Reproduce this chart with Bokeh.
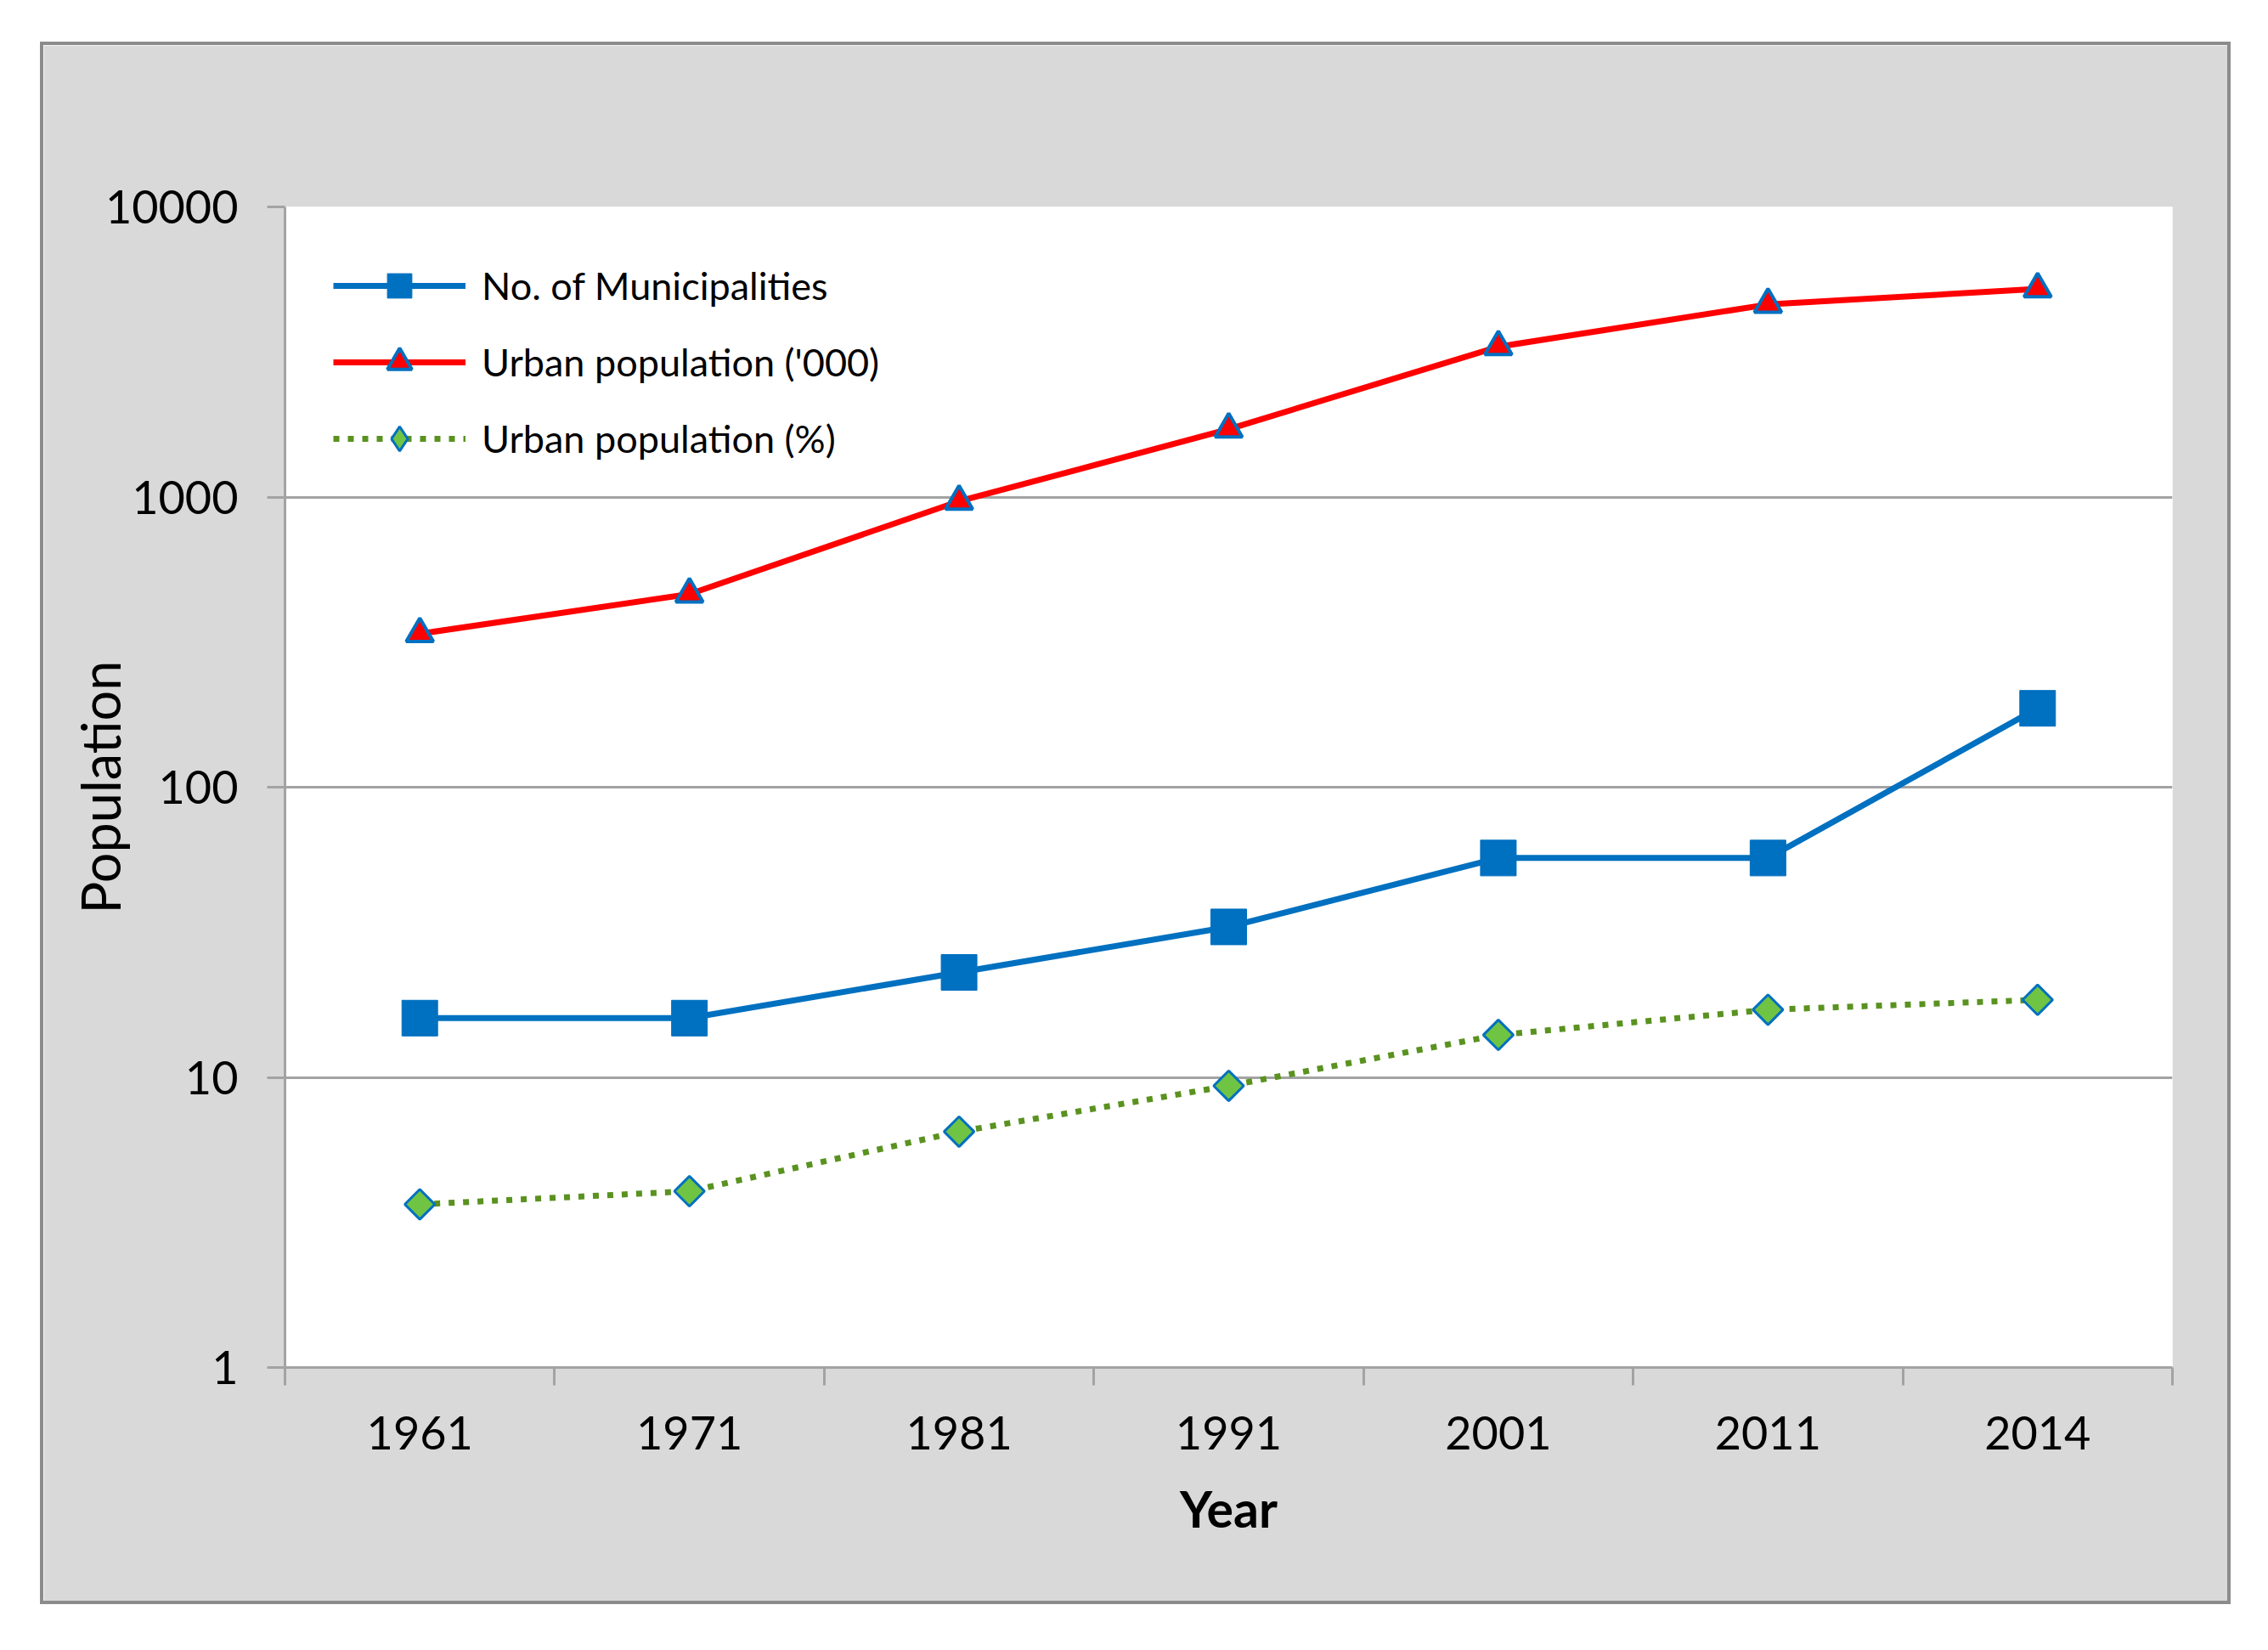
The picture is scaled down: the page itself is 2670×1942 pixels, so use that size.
from bokeh.plotting import figure
from bokeh.models import (FactorRange, LinearAxis, FixedTicker, Legend, LegendItem,
                          ColumnDataSource, Range1d)
from bokeh.embed import file_html
from bokeh.resources import INLINE
import math

# ---- data ----
years = ["1961", "1971", "1981", "1991", "2001", "2011", "2014"]
municipalities = [16, 16, 23, 33, 57, 57, 187]
urban_pop_000 = [338, 463, 967, 1714, 3296, 4610, 5216]
urban_pop_pct = [3.65, 4.05, 6.5, 9.35, 14.0, 17.1, 18.5]
y_ticks = [1, 10, 100, 1000, 10000]
y_tick_labels = ["1", "10", "100", "1000", "10000"]
series_names = ["No. of Municipalities", "Urban population ('000)", "Urban population (%)"]
x_title = "Year"
y_title = "Population"

FONT = "Lato"
GRAY = "#a3a3a3"
BLUE = "#0070C0"
RED = "#FF0000"
GREEN_LINE = "#5a9220"
GREEN_FILL = "#70c443"

src = ColumnDataSource(dict(year=years, muni=municipalities, pop=urban_pop_000, pct=urban_pop_pct))

p = figure(width=2579, height=1839,
           x_range=FactorRange(factors=years),
           y_axis_type="log", y_range=Range1d(y_ticks[0], y_ticks[-1]),
           output_backend="svg", toolbar_location=None, x_axis_location=None,
           min_border_left=284, min_border_right=73, min_border_top=190, min_border_bottom=283)
p.margin = (49, 0, 0, 47)
p.styles = {"border": "4px solid #8c8c8c"}
p.background_fill_color = "white"
p.border_fill_color = "#d9d9d9"
p.outline_line_color = None
for g in p.xgrid:
    g.visible = False

# y axis
ya = p.yaxis[0]
ya.ticker = FixedTicker(ticks=y_ticks, minor_ticks=[])
ya.major_label_overrides = {t: l for t, l in zip(y_ticks, y_tick_labels)}
ya.axis_line_color = GRAY
ya.axis_line_width = 3
ya.major_tick_line_color = GRAY
ya.major_tick_line_width = 3
ya.major_tick_out = 21
ya.major_tick_in = 0
ya.minor_tick_out = 0
ya.minor_tick_in = 0
ya.major_label_standoff = 34
ya.major_label_text_font = FONT
ya.major_label_text_font_size = "54px"
ya.major_label_text_color = "black"
ya.axis_label = y_title
ya.axis_label_text_font = FONT
ya.axis_label_text_font_size = "63px"
ya.axis_label_text_font_style = "normal"
ya.axis_label_text_color = "black"
ya.axis_label_standoff = -34

for g in p.ygrid:
    g.ticker = FixedTicker(ticks=y_ticks, minor_ticks=[])
    g.grid_line_color = GRAY
    g.grid_line_width = 3

# x axis: labels at category centres, tick marks on category boundaries
n = len(years)
xa = LinearAxis(ticker=FixedTicker(ticks=[i + 0.5 for i in range(n)],
                                   minor_ticks=list(range(n + 1))),
                major_label_overrides={i + 0.5: y for i, y in enumerate(years)})
xa.axis_line_color = GRAY
xa.axis_line_width = 3
xa.major_tick_out = 0
xa.major_tick_in = 0
xa.minor_tick_out = 21
xa.minor_tick_in = 0
xa.minor_tick_line_color = GRAY
xa.minor_tick_line_width = 3
xa.major_label_standoff = 36
xa.major_label_text_font = FONT
xa.major_label_text_font_size = "54px"
xa.major_label_text_color = "black"
xa.axis_label = x_title
xa.axis_label_text_font = FONT
xa.axis_label_text_font_size = "59px"
xa.axis_label_text_font_style = "bold"
xa.axis_label_text_color = "black"
xa.axis_label_standoff = 31
p.add_layout(xa, "below")

# series
l1 = p.line("year", "muni", source=src, line_color=BLUE, line_width=7)
m1 = p.scatter("year", "muni", source=src, marker="square", size=42,
               fill_color=BLUE, line_color=BLUE, line_width=1)

l2 = p.line("year", "pop", source=src, line_color=RED, line_width=7)
m2 = p.scatter("year", "pop", source=src, marker="triangle", size=32,
               fill_color=RED, line_color=BLUE, line_width=4)

l3 = p.line("year", "pct", source=src, line_color=GREEN_LINE, line_width=7,
            line_dash="7 10")
m3_leg = p.scatter("year", "pct", source=src, marker="diamond", size=0,
                   fill_color=GREEN_FILL, line_color=BLUE, line_width=3)
m3 = p.scatter("year", "pct", source=src, marker="square", size=25, angle=math.pi / 4,
               fill_color=GREEN_FILL, line_color=BLUE, line_width=3)

legend = Legend(items=[
    LegendItem(label=series_names[0], renderers=[l1, m1]),
    LegendItem(label=series_names[1], renderers=[l2, m2]),
    LegendItem(label=series_names[2], renderers=[l3, m3_leg]),
], location="top_left")
legend.margin = 20
legend.padding = 37
legend.spacing = 18
legend.glyph_height = 72
legend.glyph_width = 156
legend.label_standoff = 19
legend.label_text_font = FONT
legend.label_text_font_size = "45px"
legend.label_text_color = "black"
legend.background_fill_alpha = 0
legend.border_line_alpha = 0
p.add_layout(legend)

open("out.html", "w").write(file_html(p, INLINE))
